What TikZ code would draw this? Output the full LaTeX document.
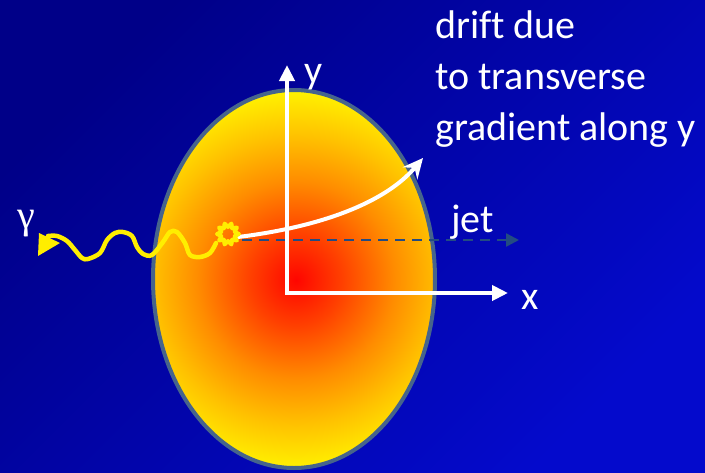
\documentclass[tikz,border=0pt]{standalone}
\usepackage{fontspec}
\setmainfont{Carlito}[Ligatures=NoCommon]
\newfontfamily\greekfont{Liberation Serif}
\usetikzlibrary{arrows.meta,calc}
\definecolor{bgdark}{RGB}{0,0,136}
\definecolor{bglight}{RGB}{4,10,204}
\definecolor{rimblue}{RGB}{70,100,140}
\definecolor{jetblue}{RGB}{35,75,130}
\definecolor{photonyellow}{RGB}{255,238,0}
\pgfdeclareradialshading{fireball}{\pgfpoint{0bp}{0bp}}{rgb(0bp)=(1,0.02,0); rgb(6bp)=(1,0.25,0); rgb(13bp)=(1,0.55,0); rgb(19bp)=(1,0.76,0); rgb(25bp)=(1,0.95,0); rgb(50bp)=(1,0.95,0)}
\tikzset{
  rim/.style={draw=rimblue, line width=4pt},
  axisline/.style={{Triangle[length=16pt,width=15pt]}-{Triangle[length=16pt,width=15pt]}, line width=4.5pt, white},
  driftline/.style={-{Stealth[length=20pt,width=19pt,inset=7pt]}, line width=4pt, white, line cap=round},
  jetline/.style={-{Triangle[length=13pt,width=13pt]}, line width=2.5pt, jetblue, dash pattern=on 10pt off 7pt},
  photon/.style={line width=4.5pt, photonyellow, line join=round, line cap=round},
  burst/.style={line width=4pt, photonyellow, line join=round},
  annot/.style={white, font=\fontsize{40}{51}\selectfont, inner sep=0pt, align=left},
}
\begin{document}
\begin{tikzpicture}[x=1pt,y=-1pt]
\useasboundingbox (0,0) rectangle (705,472);
\shade[top color=bgdark, bottom color=bglight, shading angle=45] (0,0) rectangle (705,472);
% the fireball
\coordinate (E) at (294,279);
\begin{scope}
  \clip (E) ellipse [x radius=141, y radius=189];
  \shade[shading=fireball] (296,280) circle [radius=190];
\end{scope}
\draw[rim] (E) ellipse [x radius=141, y radius=189];
\coordinate (vertex) at (228,234);
\coordinate (jetstart) at (242,240);
\coordinate (jetend) at (519,240);
\coordinate (driftstart) at (238,237);
\coordinate (drifttip) at (423,158);
\coordinate (O) at (287,293);
\coordinate (yend) at (287,65);
\coordinate (xend) at (508,293);
\draw[jetline] (jetstart) -- (jetend);
\draw[driftline] (driftstart) .. controls (320,227) and (385,203) .. (drifttip);
\draw[axisline] (yend) -- (O) -- (xend);
% photon leaving the medium
\draw[photon] plot[smooth, tension=0.55] coordinates {(216,243) (210,253) (200,257) (190,255) (185,243) (177,232) (170,232) (163,242) (152,255) (143,254) (137,247) (132,236) (123,232) (115,233) (107,240) (100,253) (88,259) (82,258) (75,250) (67,241) (57,236) (48,236)};
\fill[photonyellow] (39,233) -- (38,256) -- (60,243) -- cycle;
\draw[burst] ($(vertex)+(0:11)$) \foreach \k in {1,...,19} { -- ($(vertex)+({\k*18}:{11-4*mod(\k,2)})$) } -- cycle;
\node[annot, anchor=base west] (drift) at (435,140) {drift due\\to transverse\\gradient along y};
\node[annot, anchor=base west] (jetlbl) at (451,232) {jet};
\node[annot, anchor=base west] (xlbl) at (521,309) {x};
\node[annot, anchor=base west] (ylbl) at (304,83) {y};
\node[annot, anchor=base west, font=\greekfont\fontsize{40}{48}\selectfont] (gam) at (17,228) {γ};
\end{tikzpicture}
\end{document}
